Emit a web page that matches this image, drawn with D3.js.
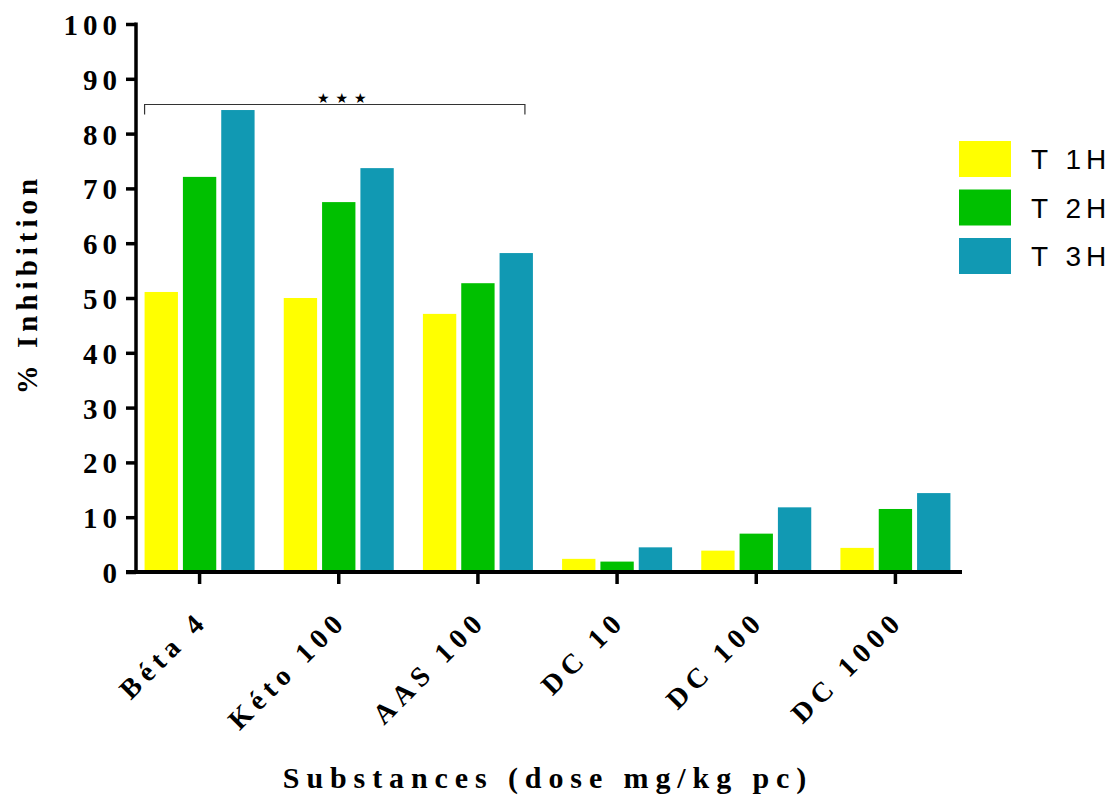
<!DOCTYPE html>
<html>
<head>
<meta charset="utf-8">
<script src="https://cdn.jsdelivr.net/npm/d3@7/dist/d3.min.js"></script>
<style>
  html, body { margin: 0; padding: 0; background: #fff; }
  svg { display: block; }
</style>
</head>
<body>
<svg id="chart" width="1111" height="796"></svg>
<script>
// Categories (substance and dose) and inhibition values per time point
const categories = ["Béta 4", "Kéto 100", "AAS 100", "DC 10", "DC 100", "DC 1000"];
const seriesNames = ["T 1H", "T 2H", "T 3H"];
const seriesColors = ["#ffff00", "#00c000", "#1199b3"];
const t1h = [51.1, 50.0, 47.1, 2.4, 3.9, 4.4];
const t2h = [72.1, 67.5, 52.7, 1.9, 7.0, 11.5];
const t3h = [84.3, 73.7, 58.2, 4.5, 11.8, 14.4];
const yTicks = [0, 10, 20, 30, 40, 50, 60, 70, 80, 90, 100];

const series = [t1h, t2h, t3h];

const svg = d3.select("#chart");
const serif = "'Liberation Serif', 'Times New Roman', serif";
const sans = "'Liberation Sans', Arial, sans-serif";

const plotLeft = 136, plotRight = 965, plotTop = 24, plotBottom = 572;

const x = d3.scaleBand().domain(categories).range([plotLeft - 6, plotRight]).paddingInner(0).paddingOuter(0);
const sub = d3.scaleBand().domain(seriesNames).range([-55, 55]).paddingInner(0.13);
const y = d3.scaleLinear().domain([0, 100]).range([plotBottom, plotTop]);

// Bars
const g = svg.append("g");
categories.forEach((c, i) => {
  series.forEach((s, j) => {
    const cx = x(c) + x.bandwidth() / 2;
    g.append("rect")
      .attr("x", cx + sub(seriesNames[j]))
      .attr("y", y(s[i]))
      .attr("width", sub.bandwidth())
      .attr("height", y(0) - y(s[i]))
      .attr("fill", seriesColors[j]);
  });
});

// Y axis
const yAxis = d3.axisLeft(y).tickValues(yTicks).tickSize(10).tickPadding(9).tickSizeOuter(0);
const yg = svg.append("g").attr("transform", `translate(${plotLeft},0)`).call(yAxis);
yg.select(".domain").attr("stroke", "#000").attr("stroke-width", 3.5)
  .attr("d", `M0,${plotTop - 1.5}V${plotBottom}`);
yg.selectAll(".tick line").attr("stroke", "#000").attr("stroke-width", 3.5);
yg.selectAll(".tick text")
  .attr("font-family", serif).attr("font-weight", "bold").attr("font-size", 29)
  .attr("letter-spacing", 5).attr("fill", "#000").attr("dx", 5).attr("dy", "0.36em");

// X axis
const xAxis = d3.axisBottom(x).tickSize(12).tickSizeOuter(0).tickFormat("");
const xg = svg.append("g").attr("transform", `translate(0,${plotBottom})`).call(xAxis);
xg.select(".domain").attr("stroke", "#000").attr("stroke-width", 4)
  .attr("d", `M${plotLeft - 10},0H962`);
xg.selectAll(".tick line").attr("stroke", "#000").attr("stroke-width", 3.5);

// Rotated category labels
svg.append("g").selectAll("text").data(categories).join("text")
  .attr("transform", d => `translate(${x(d) + x.bandwidth() / 2 + 10},${plotBottom + 50}) rotate(-45)`)
  .attr("text-anchor", "end")
  .attr("font-family", serif).attr("font-weight", "bold").attr("font-size", 28)
  .attr("letter-spacing", 6)
  .text(d => d);

// Axis titles
svg.append("text")
  .attr("x", 548).attr("y", 788)
  .attr("text-anchor", "middle")
  .attr("font-family", serif).attr("font-weight", "bold").attr("font-size", 30)
  .attr("letter-spacing", 6.9)
  .text("Substances (dose mg/kg pc)");

svg.append("text")
  .attr("transform", "translate(37,284) rotate(-90)")
  .attr("text-anchor", "middle")
  .attr("font-family", serif).attr("font-weight", "bold").attr("font-size", 29)
  .attr("letter-spacing", 5)
  .text("% Inhibition");

// Significance bracket between Béta 4 and AAS 100
const bx1 = x(categories[0]) + x.bandwidth() / 2 - 55;
const bx2 = x(categories[2]) + x.bandwidth() / 2 + 47;
const by = 104.5;
svg.append("path")
  .attr("d", `M${bx1},${by + 10}V${by}H${bx2}V${by + 10}`)
  .attr("fill", "none").attr("stroke", "#333").attr("stroke-width", 1.2);
svg.append("text")
  .attr("x", (bx1 + bx2) / 2 + 10).attr("y", by - 1.5)
  .attr("text-anchor", "middle")
  .attr("font-family", "'DejaVu Sans', sans-serif").attr("font-size", 14)
  .attr("letter-spacing", 6)
  .text("★★★");

// Legend
const legend = svg.append("g").attr("transform", "translate(959,141)");
seriesNames.forEach((name, i) => {
  const row = legend.append("g").attr("transform", `translate(0,${i * 48.5})`);
  row.append("rect").attr("width", 52).attr("height", 36).attr("fill", seriesColors[i]);
  const t = row.append("text")
    .attr("x", 72).attr("y", 18).attr("dy", "0.36em")
    .attr("font-family", sans).attr("font-size", 28);
  // spaced lettering, without trailing space after the last letter
  t.append("tspan").attr("letter-spacing", 5).text(name.slice(0, -1));
  t.append("tspan").attr("letter-spacing", 0).text(name.slice(-1));
});
</script>
</body>
</html>
